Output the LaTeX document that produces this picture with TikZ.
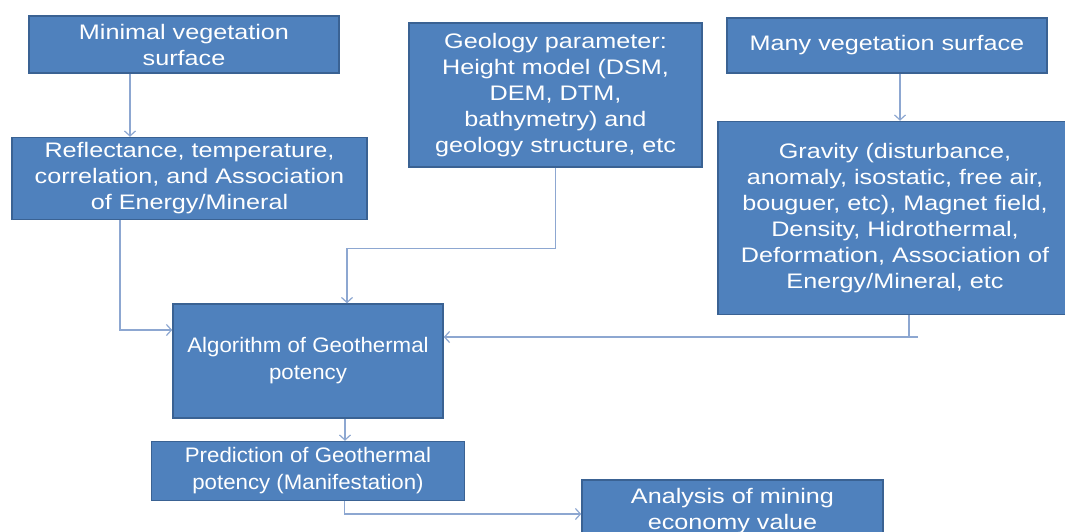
\documentclass[tikz,border=0pt]{standalone}
\usepackage{fontspec}
\setmainfont{Liberation Sans}[FakeStretch=1.2]
\newfontfamily\narrowfont{Liberation Sans}[FakeStretch=1.06]
\usetikzlibrary{arrows.meta,positioning,calc}
\definecolor{boxblue}{HTML}{4F81BD}
\definecolor{boxedge}{HTML}{3A6293}
\definecolor{linkblue}{HTML}{8DA7D1}
\tikzset{
    myblock/.style={rectangle, draw=boxedge, fill=boxblue, line width=1.5pt, text=white, align=center, inner sep=0pt, font=\fontsize{21}{26}\selectfont},
    mynarrow/.style={myblock, font=\narrowfont\fontsize{21}{27}\selectfont},
    pil/.style={-{Straight Barb[length=5pt,width=11pt]}, draw=linkblue, line width=1.2pt},
    pilline/.style={draw=linkblue, line width=1.2pt}
}

\begin{document}
\begin{tikzpicture}[x=1pt, y=-1pt]
    \useasboundingbox[fill=white] (0,0) rectangle (1065,531);
    \node[myblock, minimum width=310pt, minimum height=57pt] (minveg) at (184,44.5)
      {Minimal vegetation\\surface};
    \node[myblock, minimum width=355pt, minimum height=82pt, below=63pt of minveg, xshift=5.5pt] (reflect)
      {Reflectance, temperature,\\correlation, and Association\\of Energy/Mineral};
    \node[myblock, minimum width=293pt, minimum height=144pt] (geo) at (555.5,95)
      {Geology parameter:\\Height model (DSM,\\DEM, DTM,\\bathymetry) and\\geology structure, etc};
    \node[myblock, minimum width=320pt, minimum height=55pt] (manyveg) at (887,45.5)
      {Many vegetation surface};
    \node[myblock, minimum width=354pt, minimum height=193pt, below=47pt of manyveg, xshift=8pt] (grav)
      {Gravity (disturbance,\\anomaly, isostatic, free air,\\bouguer, etc), Magnet field,\\Density, Hidrothermal,\\Deformation, Association of\\Energy/Mineral, etc};
    \node[mynarrow, minimum width=270pt, minimum height=114pt] (algo) at (308,361)
      {Algorithm of Geothermal\\potency};
    \node[mynarrow, minimum width=313pt, minimum height=59pt, below=22pt of algo] (pred)
      {Prediction of Geothermal\\potency (Manifestation)};
    \node[myblock, minimum width=301pt, minimum height=62pt] (ana) at (732.5,511)
      {Analysis of mining\\economy value};

    % links
    \draw[pil] ([xshift=-54pt]minveg.south) -- ([xshift=-54pt]minveg.south |- reflect.north);
    \draw[pil] ([xshift=-69.5pt]reflect.south) |- ([yshift=31pt]algo.west);
    \draw[pil] (geo.south) -- ++(0,81) -| ([xshift=39pt]algo.north);
    \draw[pil] ([xshift=13pt]manyveg.south) -- ([xshift=13pt]manyveg.south |- grav.north);
    \coordinate (gfoot) at ([xshift=14pt]grav.south);
    \coordinate (ain) at ([yshift=24pt]algo.east);
    \draw[pilline] (gfoot) -- (gfoot |- ain);
    \draw[pil] ($(gfoot |- ain)+(9,0)$) -- (ain);
    \draw[pil] ([xshift=37pt]algo.south) -- ([xshift=37pt]algo.south |- pred.north);
    \draw[pil] ([xshift=36.5pt]pred.south) |- ([yshift=-3pt]ana.west);
\end{tikzpicture}
\end{document}
